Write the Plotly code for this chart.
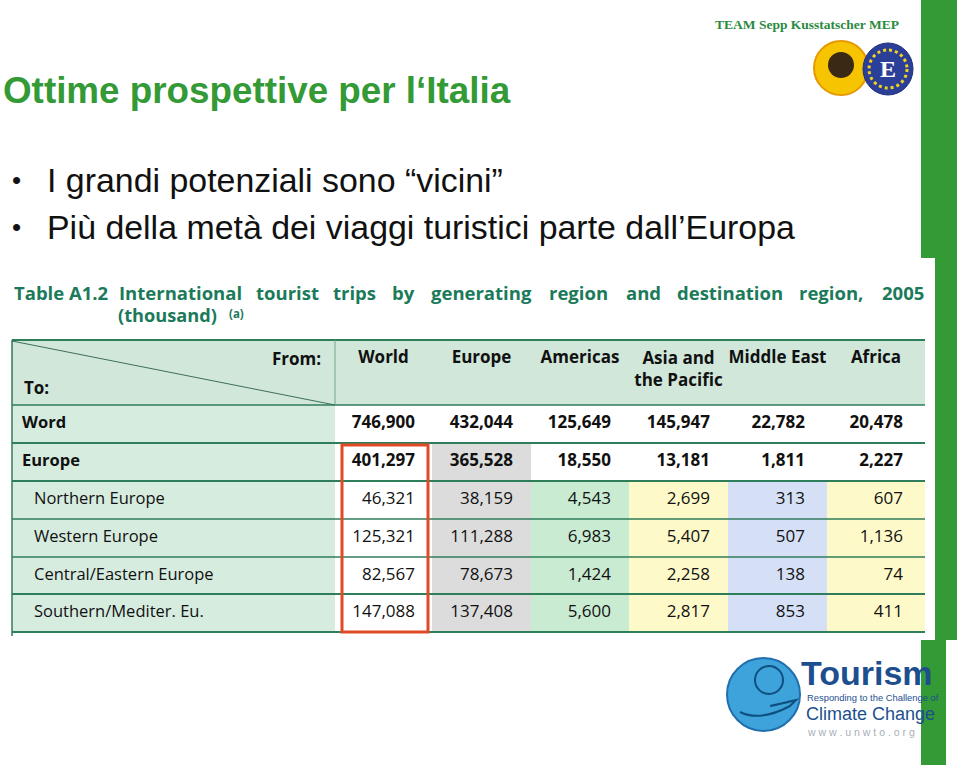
import plotly.graph_objects as go

# ---- data (thousand trips, 2005) ----
ORIGINS = ["World", "Europe", "Americas", "Asia and<br>the Pacific", "Middle East", "Africa"]
DESTINATIONS = ["Word", "Europe", "Northern Europe", "Western Europe",
                "Central/Eastern Europe", "Southern/Mediter. Eu."]
world = [746900, 401297, 46321, 125321, 82567, 147088]
europe = [432044, 365528, 38159, 111288, 78673, 137408]
americas = [125649, 18550, 4543, 6983, 1424, 5600]
asia_pacific = [145947, 13181, 2699, 5407, 2258, 2817]
middle_east = [22782, 1811, 313, 507, 138, 853]
africa = [20478, 2227, 607, 1136, 74, 411]
SERIES = [world, europe, americas, asia_pacific, middle_east, africa]

TITLE = "Ottime prospettive per l\u2018Italia"
BULLETS = ["I grandi potenziali sono \u201cvicini\u201d",
           "Pi\u00f9 della met\u00e0 dei viaggi turistici parte dall\u2019Europa"]

# ---- page geometry: axes in screen pixels (y downward) ----
W, H = 960, 765

# ---- layout of the table ----
TABLE_LEFT = 12
TABLE_TOP = 340
COL_WIDTHS = [323, 97, 99, 98, 99, 99, 98]
ROW_HEIGHTS = [65, 38, 38, 38, 38, 37, 38]
NUM_PAD = [17, 18, 18, 18, 22, 22]

x_edges = [TABLE_LEFT]
for w in COL_WIDTHS:
    x_edges.append(x_edges[-1] + w)
y_edges = [TABLE_TOP]
for h in ROW_HEIGHTS:
    y_edges.append(y_edges[-1] + h)
row_mid = [(a + b) / 2 for a, b in zip(y_edges[:-1], y_edges[1:])]
col_mid = [(a + b) / 2 for a, b in zip(x_edges[:-1], x_edges[1:])]

HEAD_FILL = "#d0e7da"
LABEL_FILL = "#d6ecdf"
WHITE = "#ffffff"
GRAY = "#dcdcdc"
COLUMN_TINTS = [WHITE, GRAY, "#c9ebd2", "#fdf9c9", "#d5e0f6", "#fdf9c9"]
LINE = "#2e7d5b"
GREEN = "#339a36"
NAVY = "#1d4f8f"
FONT = "Open Sans"

# fill colour of every cell
fills = [[HEAD_FILL] * len(COL_WIDTHS)]
for i in range(len(DESTINATIONS)):
    row = [LABEL_FILL]
    for j in range(len(SERIES)):
        if i == 0:
            row.append(WHITE)
        elif i == 1:
            row.append(GRAY if j == 1 else WHITE)
        else:
            row.append(COLUMN_TINTS[j])
    fills.append(row)
palette = []
for r in fills:
    for c in r:
        if c not in palette:
            palette.append(c)
z = [[palette.index(c) for c in r] for r in fills]
n = len(palette)
cscale = []
for k, c in enumerate(palette):
    cscale += [[k / n, c], [(k + 1) / n, c]]

fig = go.Figure()
fig.add_trace(go.Heatmap(
    x=x_edges, y=y_edges, z=z, colorscale=cscale, zmin=-0.5, zmax=n - 0.5,
    showscale=False, hoverinfo="skip", zsmooth=False,
))

# numbers, right aligned in each column
for j, vals in enumerate(SERIES):
    texts = [(f"<b>{v:,}</b>" if i < 2 else f"{v:,}") for i, v in enumerate(vals)]
    fig.add_trace(go.Scatter(
        x=[x_edges[j + 2] - NUM_PAD[j]] * len(vals), y=row_mid[1:],
        mode="text", text=texts, textposition="middle left",
        textfont=dict(family=FONT, size=17, color="#111111"), hoverinfo="skip",
    ))

# row labels
fig.add_trace(go.Scatter(
    x=[TABLE_LEFT + (10 if i < 2 else 22) for i in range(len(DESTINATIONS))],
    y=row_mid[1:], mode="text",
    text=[(f"<b>{d}</b>" if i < 2 else d) for i, d in enumerate(DESTINATIONS)],
    textposition="middle right",
    textfont=dict(family=FONT, size=16.5, color="#111111"), hoverinfo="skip",
))

# column headers
fig.add_trace(go.Scatter(
    x=col_mid[1:], y=[(y_edges[0] + 31 if "<br>" in o else y_edges[0] + 19) for o in ORIGINS],
    mode="text", text=[f"<b>{o}</b>" for o in ORIGINS], textposition="middle center",
    textfont=dict(family=FONT, size=17, color="#111111"), hoverinfo="skip",
))

shapes = []
# right-hand green band
shapes.append(dict(type="rect", x0=921, x1=957, y0=0, y1=640, fillcolor=GREEN, line_width=0, layer="below"))
shapes.append(dict(type="rect", x0=921, x1=946, y0=640, y1=765, fillcolor=GREEN, line_width=0, layer="below"))
shapes.append(dict(type="rect", x0=905, x1=935, y0=258, y1=640, fillcolor="white", line_width=0, layer="below"))

# table rules
for k, y in enumerate(y_edges):
    shapes.append(dict(type="line", x0=x_edges[0], x1=x_edges[-1], y0=y, y1=y,
                       line=dict(color=LINE, width=2.2 if k in (0, 2, 3, 6, 7) else 1.5)))
shapes.append(dict(type="line", x0=x_edges[0], x1=x_edges[0], y0=y_edges[0], y1=y_edges[-1] + 4,
                   line=dict(color=LINE, width=1.5)))
shapes.append(dict(type="line", x0=x_edges[1], x1=x_edges[1], y0=y_edges[0], y1=y_edges[1],
                   line=dict(color="#6fa98c", width=1)))
shapes.append(dict(type="line", x0=x_edges[0], x1=x_edges[1], y0=y_edges[0] + 1, y1=y_edges[1],
                   line=dict(color="#3d6f5a", width=1)))
# highlight box around the Europe→World figures
shapes.append(dict(type="rect", x0=x_edges[1] + 7, x1=x_edges[2] - 4, y0=y_edges[2] + 2, y1=y_edges[-1],
                   line=dict(color="#e04b26", width=3)))

# logos (rough)
shapes.append(dict(type="circle", x0=814, x1=868, y0=41, y1=95, fillcolor="#f6c400",
                   line=dict(color="#e69a00", width=2)))
shapes.append(dict(type="circle", x0=828, x1=854, y0=52, y1=78, fillcolor="#3a2914", line_width=0))
shapes.append(dict(type="circle", x0=863, x1=913, y0=43, y1=95, fillcolor="#2b3e98",
                   line=dict(color="#22307a", width=1)))
shapes.append(dict(type="circle", x0=869, x1=907, y0=50, y1=88, fillcolor="rgba(0,0,0,0)",
                   line=dict(color="#f2d31b", width=3, dash="dot")))
shapes.append(dict(type="circle", x0=727, x1=800, y0=658, y1=731, fillcolor="#3ea3da",
                   line=dict(color="#1f6fae", width=2)))
shapes.append(dict(type="circle", x0=755, x1=783, y0=666, y1=694, fillcolor="rgba(0,0,0,0)",
                   line=dict(color="#0e4f80", width=2)))
shapes.append(dict(type="path", path="M 740 712 Q 760 722 790 706 L 796 700 Q 780 704 770 706",
                   line=dict(color="#0e4f80", width=2)))

annotations = []


def note(x, y, text, size, color, family="Liberation Sans, Arial", xanchor="left", yanchor="middle"):
    annotations.append(dict(x=x, y=y, xref="x", yref="y", text=text, showarrow=False,
                            xanchor=xanchor, yanchor=yanchor,
                            font=dict(family=family, size=size, color=color)))


note(1, 90, f"<b>{TITLE}</b>", 36.8, GREEN)
for k, b in enumerate(BULLETS):
    yy = 180 + 47 * k
    note(10, yy, "\u2022", 26, "#111111")
    note(45, yy, b, 33.9, "#111111")

# table caption, justified word by word
caption = ["Table A1.2", "International", "tourist", "trips", "by", "generating",
           "region", "and", "destination", "region,", "2005"]
caption_x = [12, 117, 254, 331, 390, 429, 547, 624, 675, 797, 880]
for w, cx in zip(caption, caption_x):
    note(cx, 292, f"<b>{w}</b>", 18.5, "#1b7a5a", family=FONT)
note(116, 315, "<b>(thousand)</b>", 18.2, "#1b7a5a", family=FONT)
note(227, 313, "<b>(a)</b>", 11.5, "#1b7a5a", family=FONT)

note(x_edges[1] - 12, y_edges[0] + 18, "<b>From:</b>", 17, "#111111", family=FONT, xanchor="right")
note(TABLE_LEFT + 10, y_edges[0] + 47, "<b>To:</b>", 17, "#111111", family=FONT)

# header logo text
note(713, 24, "<b>TEAM Sepp Kusstatscher MEP</b>", 13.5, "#2b8a3e", family="Liberation Serif")
note(888, 69, "<b>E</b>", 24, "white", family="Liberation Serif", xanchor="center")

# Tourism logo text
note(799, 673, "<b>Tourism</b>", 34, NAVY)
note(805, 697, "Responding to the Challenge of", 9.4, NAVY)
note(804, 714, "Climate Change", 18, NAVY)
note(805, 732, "w w w . u n w t o . o r g", 10.5, "#a8b0b8")

fig.update_layout(
    width=W, height=H,
    margin=dict(l=0, r=0, t=0, b=0),
    paper_bgcolor="white", plot_bgcolor="white",
    showlegend=False,
    xaxis=dict(range=[0, W], visible=False, fixedrange=True),
    yaxis=dict(range=[H, 0], visible=False, fixedrange=True),
    shapes=shapes, annotations=annotations,
)

# the page is exactly the slide size, so drop the browser's default body margin
fig.write_html("out.html", config={"displayModeBar": False},
               post_script="document.body.style.margin='0';")
